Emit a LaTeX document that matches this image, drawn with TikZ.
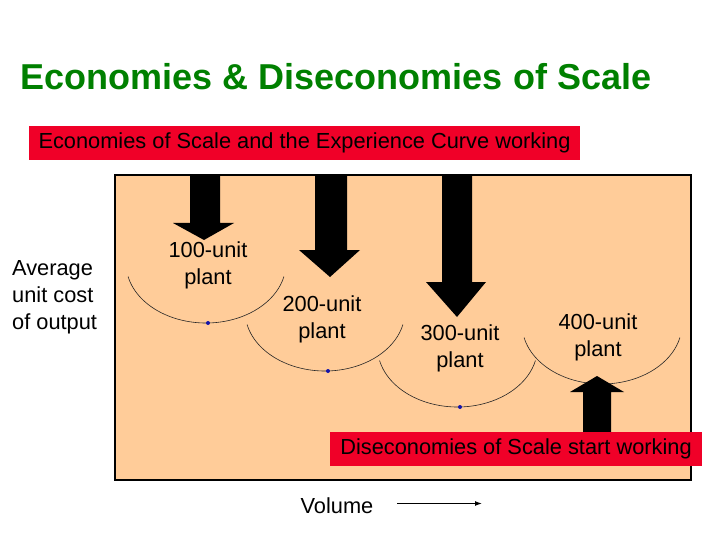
\documentclass[tikz,border=0pt]{standalone}
\usepackage{fontspec}
\setmainfont{Liberation Sans}
\usetikzlibrary{arrows.meta}
\definecolor{peach}{RGB}{255,204,153}
\definecolor{bannerred}{RGB}{240,0,40}
\definecolor{titlegreen}{RGB}{0,128,0}
\definecolor{dotblue}{RGB}{20,20,170}
\begin{document}
\begin{tikzpicture}[x=1pt,y=-1pt,
  body/.style={font=\fontsize{21.8}{26.8}\selectfont, inner sep=0pt},
  lbl/.style={body, align=center},
  banner/.style={body, fill=bannerred, text=black, minimum height=34pt},
  titletext/.style={font=\fontsize{36}{40}\selectfont\bfseries, text=titlegreen, inner sep=0pt},
  arcline/.style={line width=0.6pt, draw=black!85},
  blockarrow/.style={fill=black},
  dotstyle/.style={fill=dotblue}]
\useasboundingbox (0,0) rectangle (720,540);
\fill[white] (0,0) rectangle (720,540);

% title
\node[titletext] (title) at (336,77) {Economies \& Diseconomies of Scale};

% top banner
\node[banner, minimum width=551pt] (econ) at (304.5,143) {Economies of Scale and the Experience Curve working};

% main box
\draw[line width=2pt, fill=peach] (115,175) rectangle (691,480);

% arcs
\draw[arcline] (206,263) ++(167:80 and 60) arc[start angle=167, end angle=13, x radius=80, y radius=60];
\draw[arcline] (325,311) ++(167:80 and 60) arc[start angle=167, end angle=13, x radius=80, y radius=60];
\draw[arcline] (457.5,347) ++(167:80 and 60) arc[start angle=167, end angle=13, x radius=80, y radius=60];
\draw[arcline] (602,324) ++(167:80 and 60) arc[start angle=167, end angle=13, x radius=80, y radius=60];

% dots
\fill[dotstyle] (208,323) circle[radius=2];
\fill[dotstyle] (328,371) circle[radius=2];
\fill[dotstyle] (460,407) circle[radius=2];

% down arrows
\fill[blockarrow] (190,175) -- (220,175) -- (220,223) -- (234,223) -- (204,240) -- (173,223) -- (190,223) -- cycle;
\fill[blockarrow] (315,175) -- (347,175) -- (347,250) -- (360,250) -- (330,277) -- (299,250) -- (315,250) -- cycle;
\fill[blockarrow] (442,175) -- (472,175) -- (472,282) -- (486,282) -- (457,317) -- (426,282) -- (442,282) -- cycle;

% up arrow
\fill[blockarrow] (583,440) -- (611,440) -- (611,392) -- (624,392) -- (597,376) -- (570,392) -- (583,392) -- cycle;

% labels
\node[lbl] (p100) at (208,265.5) {100-unit\\plant};
\node[lbl] (p200) at (322,319.5) {200-unit\\plant};
\node[lbl] (p300) at (460,348.5) {300-unit\\plant};
\node[lbl] (p400) at (598,337.5) {400-unit\\plant};
\node[body, align=left, anchor=west] (avg) at (12,297) {Average\\unit cost\\of output};

% bottom banner
\node[banner, minimum width=372pt] (dis) at (516,449) {Diseconomies of Scale start working};

% volume
\node[body] (vol) at (337,506) {Volume};
\coordinate (va) at (397,503.5);
\coordinate (vb) at (482,503.5);
\draw[line width=1.2pt, -{Latex[length=7pt,width=5pt]}] (va) -- (vb);
\end{tikzpicture}
\end{document}
